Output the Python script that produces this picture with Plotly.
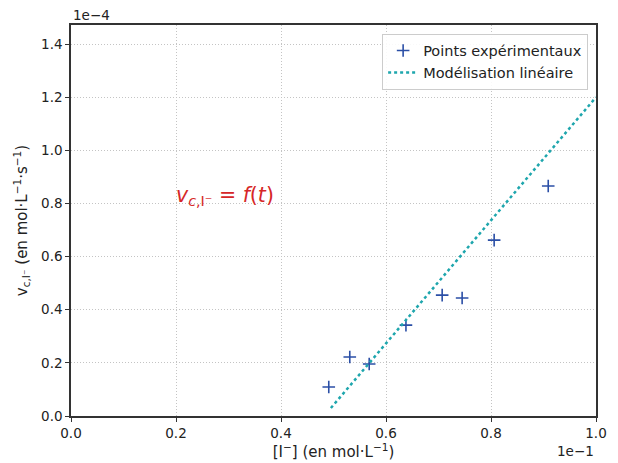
import plotly.graph_objects as go

# Data (x in units of 1e-1 mol/L, y in units of 1e-4 mol/L/s)
conc_I = [0.491, 0.531, 0.568, 0.638, 0.707, 0.745, 0.806, 0.909]
rate_v = [0.109, 0.222, 0.196, 0.342, 0.455, 0.444, 0.662, 0.866]
fit_x = [0.495, 1.0]
fit_y = [0.03, 1.20]
x_ticks = [0.0, 0.2, 0.4, 0.6, 0.8, 1.0]
y_ticks = [0.0, 0.2, 0.4, 0.6, 0.8, 1.0, 1.2, 1.4]

FONT = "DejaVu Sans"

fig = go.Figure()
fig.add_trace(go.Scatter(
    x=conc_I, y=rate_v, mode="markers", name="Points expérimentaux",
    marker=dict(symbol="cross-thin", size=9, line=dict(color="#2b4fa6", width=1.6), color="#2b4fa6"),
))
fig.add_trace(go.Scatter(
    x=fit_x, y=fit_y, mode="lines", name="Modélisation linéaire",
    line=dict(color="#1ea6ad", width=2.5, dash="dot"),
))

axis_common = dict(
    showgrid=True, gridcolor="#c4c4c4", griddash="1px,2px", gridwidth=1,
    showline=True, linecolor="#333", linewidth=1.5, mirror=True,
    ticks="outside", ticklen=4, tickcolor="#333", zeroline=False,
    automargin=False, tickfont=dict(family=FONT, size=13.5, color="#222"),
)

fig.update_layout(
    width=610, height=455,
    margin=dict(l=63, r=22, t=17, b=47),
    paper_bgcolor="white", plot_bgcolor="white",
    font=dict(family=FONT, size=13, color="#222"),
    showlegend=True,
    legend=dict(x=0.985, y=0.978, xanchor="right", yanchor="top",
                bgcolor="rgba(255,255,255,0.9)", bordercolor="#cccccc", borderwidth=1,
                font=dict(family=FONT, size=14.5, color="#222"), itemwidth=30,
                tracegroupgap=0),
    xaxis=dict(range=[0, 1.0], tickvals=x_ticks, ticktext=[f"{v:.1f}" for v in x_ticks],
               title=dict(text="[I<sup>−</sup>] (en mol·L<sup>−1</sup>)", standoff=6,
                          font=dict(family=FONT, size=15)),
               **axis_common),
    yaxis=dict(range=[0, 1.472], tickvals=y_ticks, ticktext=[f"{v:.1f}" for v in y_ticks],
               title=dict(text="v<sub>c,I⁻</sub> (en mol·L<sup>−1</sup>·s<sup>−1</sup>)", standoff=10,
                          font=dict(family=FONT, size=15)),
               **axis_common),
    annotations=[
        dict(x=0.0, y=1.0, xref="paper", yref="paper", xanchor="left", yanchor="bottom",
             text="1e−4", showarrow=False, font=dict(family=FONT, size=13.5, color="#222")),
        dict(x=1.0, y=0, xref="paper", yref="paper", xanchor="right", yanchor="top", yshift=-25,
             text="1e−1", showarrow=False, font=dict(family=FONT, size=13.5, color="#222")),
        dict(x=0.197, y=0.83, xref="x", yref="y", xanchor="left", yanchor="middle",
             text="<i>v</i><sub><i>c</i>,I⁻</sub> = <i>f</i>(<i>t</i>)", showarrow=False,
             font=dict(family=FONT, size=20.5, color="#d62728")),
    ],
)

fig.write_html("out.html")
